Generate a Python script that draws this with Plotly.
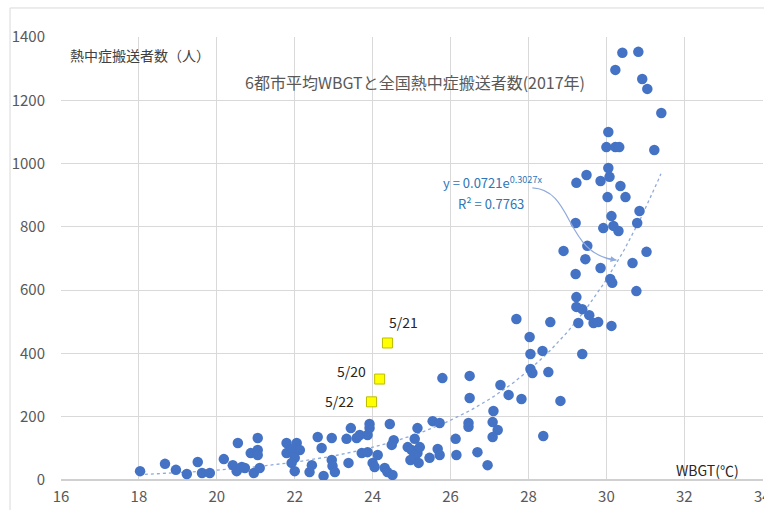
import numpy as np
import plotly.graph_objects as go

# ---- data ----
wbgt = [18.03, 18.67, 18.95, 19.23, 19.51, 19.62, 19.82, 20.18, 20.41, 20.54,
        20.51, 20.64, 20.72, 20.87, 21.05, 21.05, 21.05, 20.95, 21.10, 21.79,
        22.05, 21.79, 21.95, 22.13, 22.00, 21.92, 22.00, 22.38, 22.44, 22.59,
        22.69, 22.74, 22.95, 22.95, 22.97, 23.03, 23.33, 23.38, 23.44, 23.59,
        23.67, 23.72, 23.87, 23.87, 23.92, 23.92, 24.00, 24.05, 24.13, 24.31,
        24.38, 24.51, 24.44, 24.54, 24.49, 24.90, 25.00, 24.97, 25.08, 25.08,
        25.15, 25.15, 25.18, 25.21, 25.46, 25.54, 25.72, 25.67, 25.72, 25.79,
        26.13, 26.15, 26.49, 26.49, 26.46, 26.46, 26.69, 26.95, 27.10, 27.08,
        27.21, 27.08, 27.28, 27.49, 27.82, 27.69, 28.03, 28.05, 28.36, 28.05,
        28.10, 28.51, 28.82, 28.38, 28.56, 29.23, 29.23, 29.38, 29.56, 29.67,
        29.79, 29.28, 30.13, 29.38, 30.10, 30.15, 30.77, 29.21, 29.85, 30.67,
        31.03, 29.46, 29.51, 28.90, 29.21, 29.92, 30.18, 30.31, 30.13, 30.79,
        30.85, 30.03, 30.49, 29.23, 29.85, 30.08, 30.36, 29.49, 30.05, 30.00,
        30.23, 30.33, 31.23, 30.05, 31.41, 30.41, 30.82, 30.23, 30.92, 31.05]
persons = [28, 51, 32, 19, 57, 22, 22, 66, 47, 117,
           28, 41, 38, 85, 133, 95, 79, 22, 38, 117,
           117, 85, 98, 95, 70, 54, 28, 25, 47, 136,
           101, 13, 133, 63, 44, 25, 130, 54, 164, 133,
           142, 85, 88, 142, 164, 177, 54, 41, 79, 38,
           25, 16, 177, 126, 111, 104, 95, 63, 130, 73,
           85, 164, 54, 104, 70, 186, 180, 98, 79, 322,
           130, 79, 329, 259, 180, 168, 88, 47, 218, 183,
           158, 136, 300, 269, 256, 509, 452, 398, 408, 351,
           338, 341, 250, 139, 499, 578, 547, 540, 521, 496,
           499, 496, 487, 398, 635, 623, 597, 651, 670, 686,
           721, 698, 740, 724, 812, 796, 803, 787, 834, 812,
           850, 894, 894, 939, 945, 958, 929, 964, 986, 1052,
           1052, 1052, 1043, 1100, 1160, 1350, 1353, 1296, 1267, 1236]

may_labels = ["5/21", "5/20", "5/22"]
may_wbgt = [24.38, 24.18, 23.97]
may_persons = [433, 319, 247]

# exponential trendline shown on the chart: y = a * exp(b x)
trend_a = 0.0721
trend_b = 0.3027
trend_r2 = 0.7763
trend_x_start, trend_x_end = 18.0, 31.4

x_ticks = [16, 18, 20, 22, 24, 26, 28, 30, 32, 34]
y_ticks = [0, 200, 400, 600, 800, 1000, 1200, 1400]

FONT = "Noto Sans CJK JP"
GRID = "#D9D9D9"
BLUE = "#4472C4"

fig = go.Figure()

tx = np.linspace(trend_x_start, trend_x_end, 200)
fig.add_trace(go.Scatter(
    x=tx, y=trend_a * np.exp(trend_b * tx), mode="lines",
    line=dict(color="#8FAADC", width=1.3, dash="dot"),
    hoverinfo="skip", showlegend=False))

fig.add_trace(go.Scatter(
    x=wbgt, y=persons, mode="markers",
    marker=dict(color=BLUE, size=10.5, line=dict(width=0)),
    showlegend=False))

fig.add_trace(go.Scatter(
    x=may_wbgt, y=may_persons, mode="markers",
    marker=dict(color="#FFFF00", size=10, symbol="square",
                line=dict(color="#BDBD00", width=1)),
    showlegend=False))

# curved arrow from equation to trendline
fig.add_shape(type="path", xref="x", yref="y",
              path="M 28.10,923 C 29.18,917 28.92,711 30.26,695",
              line=dict(color="#8FAADC", width=1.2))
fig.add_annotation(x=30.26, y=695, ax=-12, ay=-2, xref="x", yref="y",
                   text="", showarrow=True, arrowhead=2, arrowsize=1,
                   arrowwidth=1.2, arrowcolor="#8FAADC")

# chart border (Excel chart area frame)
fig.add_shape(type="rect", xref="paper", yref="paper",
              x0=-0.0726, x1=1.2, y0=-0.3, y1=1.0655,
              line=dict(color="#D9D9D9", width=1), layer="below")

ann = []
ann.append(dict(text="6都市平均WBGTと全国熱中症搬送者数(2017年)", x=25.08, y=1258,
                xref="x", yref="y", showarrow=False,
                font=dict(family=FONT, size=16, color="#595959")))
ann.append(dict(text="熱中症搬送者数（人）", x=16.18, y=1343, xref="x", yref="y",
                xanchor="left", showarrow=False,
                font=dict(family=FONT, size=14, color="#404040")))
ann.append(dict(text="WBGT(℃)", x=33.46, y=32, xref="x", yref="y",
                xanchor="right", showarrow=False,
                font=dict(family=FONT, size=14, color="#262626")))
ann.append(dict(text=f"y = {trend_a}e<sup>{trend_b}x</sup>", x=27.08, y=942,
                xref="x", yref="y", showarrow=False,
                font=dict(family=FONT, size=13, color="#2E75B6")))
ann.append(dict(text=f"R² = {trend_r2}", x=27.05, y=875, xref="x", yref="y",
                showarrow=False, font=dict(family=FONT, size=13, color="#2E75B6")))
label_pos = {"5/21": (24.79, 499), "5/20": (23.46, 344), "5/22": (23.15, 250)}
for lab in may_labels:
    lx, ly = label_pos[lab]
    ann.append(dict(text=lab, x=lx, y=ly, xref="x", yref="y", showarrow=False,
                    font=dict(family=FONT, size=14, color="#262626")))
for a in ann:
    fig.add_annotation(**a)

fig.update_layout(
    width=764, height=510,
    margin=dict(l=61, r=1, t=37, b=30, autoexpand=False),
    paper_bgcolor="white", plot_bgcolor="white",
    font=dict(family=FONT, size=15, color="#595959"),
    xaxis=dict(range=[16, 34.02], tickvals=x_ticks, ticktext=[str(v) for v in x_ticks],
               showgrid=True, gridcolor=GRID, gridwidth=1, zeroline=False,
               showline=False, ticks="", ticklabelstandoff=6,
               ticklabeloverflow="allow", automargin=False,
               tickfont=dict(size=15, color="#595959")),
    yaxis=dict(range=[0, 1400], tickvals=y_ticks, ticktext=[str(v) for v in y_ticks],
               showgrid=True, gridcolor=GRID, gridwidth=1, zeroline=True,
               zerolinecolor="#D0D0D0", zerolinewidth=1.5,
               showline=False, ticks="", ticklabelstandoff=15, automargin=False,
               tickfont=dict(size=15, color="#595959")),
)

fig.write_html("out.html")
